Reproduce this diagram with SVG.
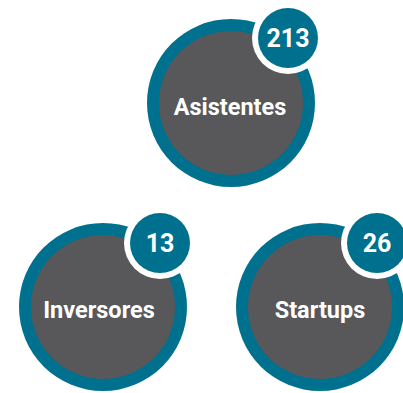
<svg xmlns="http://www.w3.org/2000/svg" width="403" height="393" viewBox="0 0 403 393">
<style>
.outer{fill:#00708f}
.inner{fill:#58585a}
.halo{fill:#ffffff}
.badge{fill:#00708f}
.lbl{font-family:Roboto,"Liberation Sans",sans-serif;font-weight:bold;font-size:23.5px;fill:#ffffff;text-anchor:middle}
.num{font-family:Roboto,"Liberation Sans",sans-serif;font-weight:bold;font-size:25px;fill:#ffffff;text-anchor:middle}
</style>
<rect width="403" height="393" fill="#ffffff"/>
<g id="asistentes">
<circle class="outer" cx="231" cy="103" r="84"/>
<circle class="inner" cx="231" cy="103" r="72"/>
<circle class="halo" cx="288" cy="38" r="36"/>
<circle class="badge" cx="288" cy="38" r="30"/>
<text class="lbl" x="230" y="115">Asistentes</text>
<text class="num" x="288" y="47">213</text>
</g>
<g id="inversores">
<circle class="outer" cx="103" cy="307" r="84"/>
<circle class="inner" cx="103" cy="307" r="72"/>
<circle class="halo" cx="160" cy="243" r="36"/>
<circle class="badge" cx="160" cy="243" r="30"/>
<text class="lbl" x="99" y="318">Inversores</text>
<text class="num" x="160" y="252">13</text>
</g>
<g id="startups">
<circle class="outer" cx="320" cy="307" r="84"/>
<circle class="inner" cx="320" cy="307" r="72"/>
<circle class="halo" cx="377" cy="243" r="36"/>
<circle class="badge" cx="377" cy="243" r="30"/>
<text class="lbl" x="320" y="318">Startups</text>
<text class="num" x="377" y="252">26</text>
</g>
<g id="connectors"/>
</svg>
